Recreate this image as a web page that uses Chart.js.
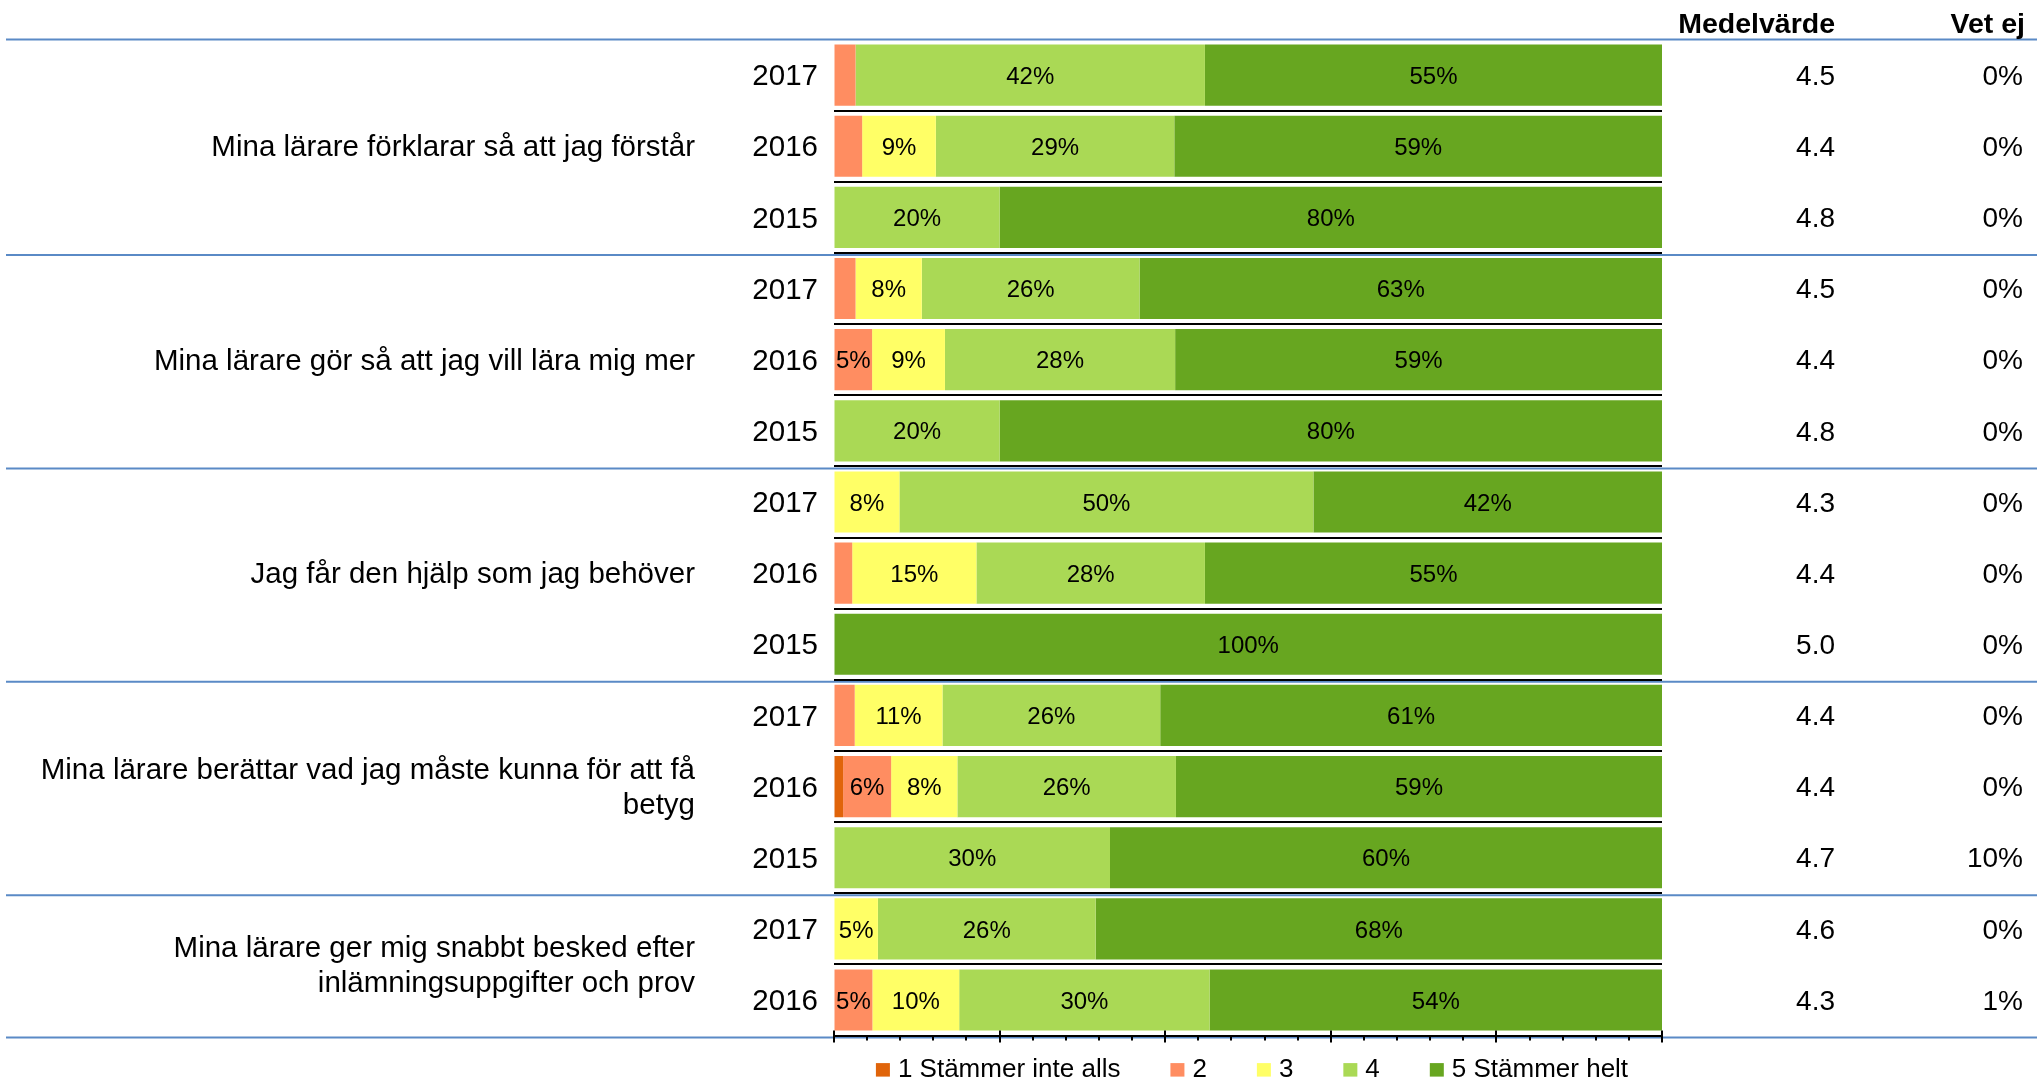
<!DOCTYPE html>
<html>
<head>
<meta charset="utf-8">
<script src="https://cdn.jsdelivr.net/npm/chart.js@4.4.1/dist/chart.umd.min.js"></script>
<style>
  html, body { margin: 0; padding: 0; background: #fff; }
  canvas { display: block; }
</style>
</head>
<body>
<canvas id="chart" width="2037" height="1082"></canvas>
<script>
// Enkätresultat: andel svar per svarsalternativ, per fråga och år

const years = ['2017', '2016', '2015', '2017', '2016', '2015', '2017', '2016', '2015',
               '2017', '2016', '2015', '2017', '2016'];

const questions = [
  ['Mina lärare förklarar så att jag förstår'],
  ['Mina lärare gör så att jag vill lära mig mer'],
  ['Jag får den hjälp som jag behöver'],
  ['Mina lärare berättar vad jag måste kunna för att få', 'betyg'],
  ['Mina lärare ger mig snabbt besked efter', 'inlämningsuppgifter och prov']
];
const questionRows = [3, 3, 3, 3, 2];

const answerLabels = ['1 Stämmer inte alls', '2', '3', '4', '5 Stämmer helt'];
const answerColors = ['#E0640A', '#FF8D61', '#FFFF66', '#AAD955', '#67A620'];

// procent av alla svarande (inkl. vet ej)
const answer1 = [0, 0, 0, 0, 0, 0, 0, 0, 0, 0, 1.1, 0, 0, 0];
const answer2 = [2.6, 3.4, 0, 2.6, 4.6, 0, 0, 2.2, 0, 2.5, 5.8, 0, 0, 4.6];
const answer3 = [0, 8.9, 0, 8.0, 8.8, 0, 7.9, 15.0, 0, 10.6, 8.0, 0, 5.3, 10.4];
const answer4 = [42.2, 28.8, 20, 26.3, 27.8, 20, 50.0, 27.6, 0, 26.3, 26.4, 30, 26.3, 30.0];
const answer5 = [55.2, 58.9, 80, 63.1, 58.8, 80, 42.1, 55.2, 100, 60.6, 58.7, 60, 68.4, 54.2];

const medelvarde = ['4.5', '4.4', '4.8', '4.5', '4.4', '4.8', '4.3', '4.4', '5.0', '4.4', '4.4', '4.7', '4.6', '4.3'];
const vetEj = [0, 0, 0, 0, 0, 0, 0, 0, 0, 0, 0, 10, 0, 1];

const FONT = '"Liberation Sans", Arial, sans-serif';

const answers = [answer1, answer2, answer3, answer4, answer5];
// staplarna visar fördelningen bland dem som svarat (utan vet ej)
const rowSums = years.map((_, i) => answers.reduce((s, a) => s + a[i], 0));

const datasets = answers.map((vals, k) => ({
  label: answerLabels[k],
  data: vals.map((v, i) => v / rowSums[i] * 100),
  rawValues: vals,
  backgroundColor: answerColors[k],
  borderWidth: 0,
  categoryPercentage: 1,
  barPercentage: 0.86
}));

const tablePlugin = {
  id: 'tableText',
  beforeDraw(chart) {
    // blå linjer mellan frågorna
    const ctx = chart.ctx, y = chart.scales.y;
    ctx.save();
    ctx.strokeStyle = '#5A8AC6';
    ctx.lineWidth = 2;
    let row = 0;
    const bounds = [0];
    questionRows.forEach(n => { row += n; bounds.push(row); });
    bounds.forEach((b, k) => {
      const py = y.getPixelForValue(b - 0.5) + (k === 0 ? 0 : 2);
      ctx.beginPath();
      ctx.moveTo(6, py);
      ctx.lineTo(chart.width, py);
      ctx.stroke();
    });
    ctx.restore();
  },
  afterDatasetsDraw(chart) {
    const ctx = chart.ctx;
    ctx.save();
    ctx.font = '24px ' + FONT;
    ctx.fillStyle = '#000';
    ctx.textAlign = 'center';
    ctx.textBaseline = 'middle';
    chart.data.datasets.forEach((ds, d) => {
      chart.getDatasetMeta(d).data.forEach((bar, i) => {
        const v = Math.round(ds.rawValues[i]);
        if (v < 5) return;
        ctx.fillText(v + '%', (bar.x + bar.base) / 2, bar.y + 2);
      });
    });
    ctx.restore();
  },
  afterDraw(chart) {
    const ctx = chart.ctx, y = chart.scales.y, x = chart.scales.x, area = chart.chartArea;
    ctx.save();

    // frågetexter
    ctx.fillStyle = '#000';
    ctx.font = '29.5px ' + FONT;
    ctx.textAlign = 'right';
    ctx.textBaseline = 'middle';
    let start = 0;
    questions.forEach((lines, q) => {
      const mid = (y.getPixelForValue(start) + y.getPixelForValue(start + questionRows[q] - 1)) / 2 + 2;
      const lh = 35;
      lines.forEach((t, l) => {
        ctx.fillText(t, 695, mid + (l - (lines.length - 1) / 2) * lh);
      });
      start += questionRows[q];
    });

    // rubriker
    ctx.font = 'bold 28.5px ' + FONT;
    ctx.textBaseline = 'alphabetic';
    ctx.fillText('Medelvärde', 1835, 33);
    ctx.fillText('Vet ej', 2025, 33);

    // värden
    ctx.font = '28px ' + FONT;
    ctx.textBaseline = 'middle';
    years.forEach((_, i) => {
      const py = y.getPixelForValue(i) + 2;
      ctx.fillText(medelvarde[i], 1835, py);
      ctx.fillText(vetEj[i] + '%', 2023, py);
    });

    // skalstreck på x-axeln
    ctx.strokeStyle = '#000';
    ctx.lineWidth = 2;
    x.ticks.forEach(t => {
      const px = Math.round(x.getPixelForValue(t.value));
      const major = t.value % 20 === 0;
      ctx.beginPath();
      ctx.moveTo(px, area.bottom - (major ? 5 : 0));
      ctx.lineTo(px, area.bottom + (major ? 7 : 5));
      ctx.stroke();
    });

    // teckenförklaring
    ctx.font = '26px ' + FONT;
    ctx.textAlign = 'left';
    ctx.textBaseline = 'alphabetic';
    const boxW = 14, boxH = 13.5, gapIn = 8, gapOut = 50;
    const widths = chart.data.datasets.map(ds => boxW + gapIn + ctx.measureText(ds.label).width);
    const total = widths.reduce((s, w) => s + w, 0) + gapOut * (widths.length - 1);
    let lx = (area.left + area.right) / 2 + 4 - total / 2;
    const base = area.bottom + 41;
    chart.data.datasets.forEach((ds, d) => {
      ctx.fillStyle = ds.backgroundColor;
      ctx.fillRect(lx, base - boxH, boxW, boxH);
      ctx.fillStyle = '#000';
      ctx.fillText(ds.label, lx + boxW + gapIn, base);
      lx += widths[d] + gapOut;
    });

    ctx.restore();
  }
};

new Chart(document.getElementById('chart'), {
  type: 'bar',
  data: { labels: years, datasets },
  options: {
    indexAxis: 'y',
    responsive: false,
    animation: false,
    layout: { padding: { left: 0, right: 375, top: 39.5, bottom: 34.4 } },
    plugins: {
      legend: { display: false },
      tooltip: { enabled: false }
    },
    scales: {
      x: {
        type: 'linear',
        stacked: true,
        min: 0,
        max: 100,
        ticks: { display: false, stepSize: 4 },
        grid: { drawOnChartArea: false, drawTicks: false },
        border: { display: true, color: '#000', width: 2 },
        afterFit(s) { s.height = 12; }
      },
      y: {
        stacked: true,
        ticks: { color: '#000', font: { family: FONT, size: 29.5 }, padding: 16, labelOffset: 2 },
        grid: {
          offset: true,
          drawTicks: false,
          lineWidth: 2,
          color: c => c.index === 0 ? 'rgba(0,0,0,0)' : '#000'
        },
        border: { display: false },
        afterFit(s) { s.width = 834; }
      }
    }
  },
  plugins: [tablePlugin]
});
</script>
</body>
</html>
